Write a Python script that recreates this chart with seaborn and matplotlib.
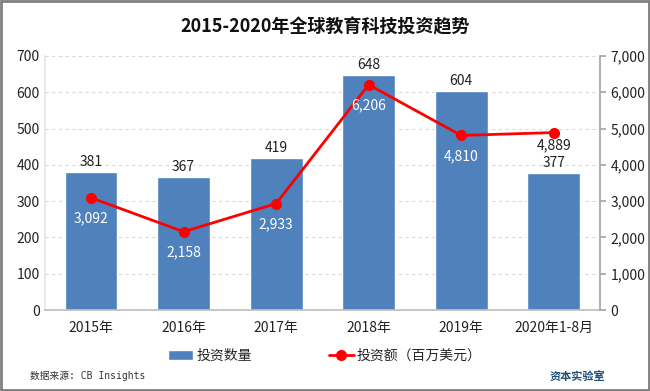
import matplotlib.pyplot as plt
import seaborn as sns
from matplotlib.patches import Rectangle

years = ['2015年', '2016年', '2017年', '2018年', '2019年', '2020年1-8月']
deal_counts = [381, 367, 419, 648, 604, 377]
amounts = [3092, 2158, 2933, 6206, 4810, 4889]

sns.set_theme(style='white')
plt.rcParams['font.family'] = ['Noto Sans CJK SC', 'DejaVu Sans']

fig = plt.figure(figsize=(6.5, 3.91), dpi=100)
ax = fig.add_axes([0.069, 0.207, 0.854, 0.650])

sns.barplot(x=years, y=deal_counts, color='#4F81BD', saturation=1, width=0.57, ax=ax,
            label='投资数量')
ax.set_ylim(0, 700)
ax.set_yticks(range(0, 701, 100))
ax.set_xlim(-0.5, 5.5)
ax.yaxis.grid(True, color='#D9D9D9', linestyle=(0, (3, 3)), linewidth=0.8)
ax.set_axisbelow(True)
for s in ['top', 'right']:
    ax.spines[s].set_visible(False)
ax.spines['left'].set_color('#E6E6E6')
ax.spines['bottom'].set_color('#BFBFBF')
ax.tick_params(axis='both', length=0, labelsize=10, colors='#222222')
ax.tick_params(axis='x', pad=8)

ax2 = ax.twinx()
sns.lineplot(x=list(range(len(years))), y=amounts, color='#FF0000', marker='o', markersize=8,
             markeredgewidth=0, linewidth=2, ax=ax2, label='投资额（百万美元）', legend=False)
ax2.set_ylim(0, 7000)
ax2.set_yticks(range(0, 7001, 1000))
ax2.set_yticklabels([f'{v:,}' for v in range(0, 7001, 1000)])
for s in ['top', 'left', 'bottom']:
    ax2.spines[s].set_visible(False)
ax2.spines['right'].set_color('#A6A6A6')
ax2.tick_params(axis='y', length=4, color='#A6A6A6', labelsize=10, labelcolor='#222222')
ax2.set_ylabel('')

# 数据标签
for i, (c, a) in enumerate(zip(deal_counts, amounts)):
    ax.annotate(str(c), (i, c), xytext=(0, 2), textcoords='offset points',
                ha='center', va='bottom', fontsize=10, color='#222222')
    inside = a / 10 < c
    ax2.annotate(f'{a:,}', (i, a), xytext=(0, -10 if inside else -4), textcoords='offset points',
                 ha='center', va='top', fontsize=10,
                 color='white' if inside else '#222222')

fig.suptitle('2015-2020年全球教育科技投资趋势', y=0.955, fontsize=13, fontweight='semibold',
             color='#111111')

h1, l1 = ax.get_legend_handles_labels()
h2, l2 = ax2.get_legend_handles_labels()
fig.legend(h1 + h2, l1 + l2, loc='center', bbox_to_anchor=(0.5, 0.09), ncol=2,
           frameon=False, fontsize=10, handlelength=1.8, handletextpad=0.25, columnspacing=5.5)
if ax.get_legend():
    ax.get_legend().remove()

fig.text(0.046, 0.038, '数据来源: CB Insights', fontsize=7,
         family=['DejaVu Sans Mono', 'Noto Sans CJK SC'], color='#333333', va='center')
fig.text(0.888, 0.036, '资本实验室', fontsize=8, fontweight='bold', color='#1F4E79',
         ha='center', va='center')

fig.patches.append(Rectangle((0.002, 0.003), 0.996, 0.994, transform=fig.transFigure,
                             fill=False, edgecolor='#7F7F7F', linewidth=2))

fig.savefig('out.png', dpi=100)
